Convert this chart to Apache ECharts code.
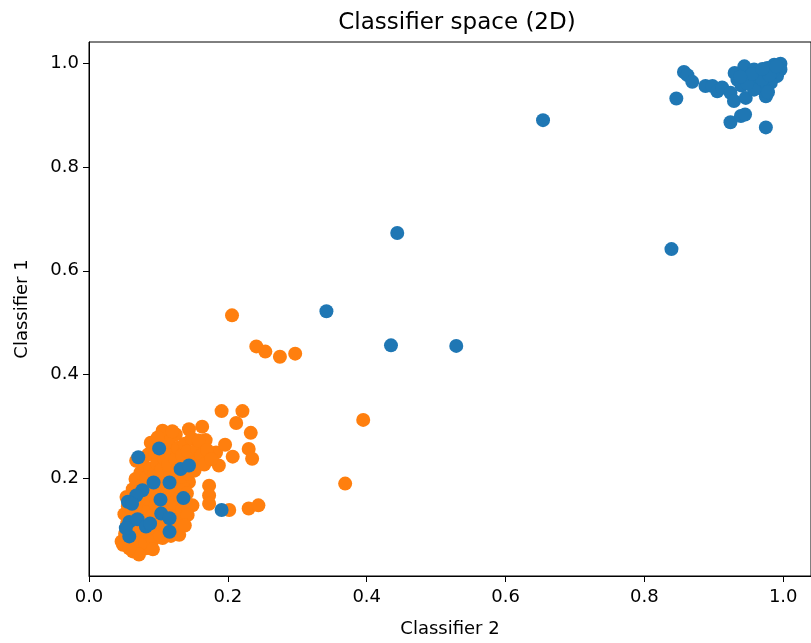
<!DOCTYPE html>
<html>
<head>
<meta charset="utf-8">
<script src="https://cdn.jsdelivr.net/npm/echarts@6/dist/echarts.min.js"></script>
<style>html,body{margin:0;padding:0;background:#fff;}#c{width:811px;height:643px;}</style>
</head>
<body>
<div id="c"></div>
<script>
const titleText = 'Classifier space (2D)';
const xName = 'Classifier 2';
const yName = 'Classifier 1';
const xTicks = [0.0, 0.2, 0.4, 0.6, 0.8, 1.0];
const yTicks = [0.2, 0.4, 0.6, 0.8, 1.0];

// orange class (drawn first)
const orangePoints = [
  [0.206,0.514],[0.241,0.454],[0.254,0.444],[0.275,0.434],[0.297,0.440],[0.395,0.312],[0.369,0.189],
  [0.191,0.329],[0.221,0.329],[0.212,0.306],[0.233,0.287],[0.163,0.299],[0.168,0.273],[0.230,0.256],
  [0.235,0.237],[0.207,0.241],[0.183,0.249],[0.187,0.224],[0.173,0.185],[0.173,0.166],[0.173,0.150],
  [0.202,0.138],[0.230,0.141],[0.244,0.147],[0.149,0.147],[0.144,0.294],[0.125,0.284],[0.106,0.291],
  [0.089,0.268],[0.068,0.233],[0.154,0.237],[0.144,0.192],[0.130,0.090],[0.106,0.084],[0.082,0.064],
  [0.063,0.058],[0.049,0.071],[0.047,0.077],
  [0.052,0.092],[0.055,0.112],[0.051,0.130],[0.056,0.145],[0.054,0.163],[0.060,0.078],[0.062,0.100],
  [0.064,0.122],[0.061,0.140],[0.066,0.158],[0.063,0.178],[0.067,0.198],[0.071,0.068],[0.073,0.088],
  [0.070,0.108],[0.075,0.132],[0.072,0.150],[0.076,0.186],[0.074,0.210],[0.078,0.226],[0.081,0.074],
  [0.084,0.095],[0.080,0.118],[0.086,0.140],[0.083,0.160],[0.087,0.178],[0.082,0.200],[0.088,0.218],
  [0.085,0.245],[0.092,0.080],[0.094,0.104],[0.091,0.126],[0.096,0.148],[0.093,0.168],[0.097,0.188],
  [0.094,0.208],[0.098,0.228],[0.095,0.250],[0.102,0.090],[0.104,0.112],[0.101,0.136],[0.106,0.156],
  [0.103,0.176],[0.107,0.198],[0.104,0.216],[0.108,0.238],[0.103,0.262],[0.112,0.098],[0.114,0.120],
  [0.111,0.142],[0.116,0.164],[0.113,0.184],[0.117,0.206],[0.114,0.226],[0.118,0.248],[0.115,0.270],
  [0.121,0.106],[0.124,0.130],[0.122,0.152],[0.126,0.172],[0.123,0.194],[0.127,0.214],[0.124,0.236],
  [0.128,0.258],[0.132,0.118],[0.134,0.140],[0.131,0.162],[0.136,0.180],[0.133,0.202],[0.137,0.222],
  [0.134,0.244],[0.138,0.266],[0.142,0.128],[0.141,0.170],[0.143,0.208],[0.146,0.230],[0.142,0.252],
  [0.148,0.276],[0.152,0.214],[0.156,0.256],[0.158,0.272],[0.162,0.244],[0.166,0.226],[0.170,0.254],
  [0.176,0.236],[0.196,0.264],[0.120,0.290],[0.099,0.278],[0.138,0.108],[0.118,0.088],[0.092,0.062],
  [0.072,0.052],[0.058,0.064]
];

// blue class (drawn on top)
const bluePoints = [
  // scattered
  [0.654,0.891],[0.444,0.673],[0.342,0.522],[0.435,0.456],[0.529,0.455],[0.839,0.642],
  // lower-left cluster
  [0.101,0.257],[0.071,0.240],[0.132,0.217],[0.144,0.224],[0.093,0.191],[0.116,0.191],[0.077,0.176],
  [0.068,0.166],[0.056,0.154],[0.103,0.158],[0.136,0.161],[0.191,0.138],[0.058,0.115],[0.070,0.120],
  [0.082,0.106],[0.104,0.131],[0.116,0.122],[0.116,0.096],[0.058,0.087],[0.053,0.103],[0.088,0.112],
  [0.062,0.150],
  // upper-right cluster
  [0.846,0.933],[0.857,0.984],[0.862,0.978],[0.869,0.965],[0.888,0.957],[0.898,0.957],[0.905,0.947],
  [0.912,0.954],[0.924,0.944],[0.929,0.928],[0.934,0.969],[0.944,0.995],[0.946,0.934],[0.924,0.887],
  [0.939,0.899],[0.945,0.902],[0.975,0.877],[0.958,0.989],[0.967,0.983],[0.977,0.992],[0.987,0.998],
  [0.996,1.000],[0.996,0.989],[0.991,0.976],[0.982,0.963],[0.972,0.950],[0.975,0.937],[0.963,0.969],
  [0.958,0.950],[0.950,0.975],[0.940,0.958],[0.985,0.985],[0.970,0.970],[0.980,0.978],[0.948,0.962],
  [0.990,0.995],[0.955,0.980],[0.930,0.982],[0.938,0.975],[0.970,0.990],[0.978,0.945]
];

const FONT = 'DejaVu Sans';
const chart = echarts.init(document.getElementById('c'), null, {renderer: 'canvas'});
chart.setOption({
  animation: false,
  backgroundColor: '#fff',
  title: {
    text: titleText, left: 452, top: 7, textAlign: 'center',
    textStyle: {fontFamily: FONT, fontSize: 23, fontWeight: 'normal', color: '#000'}
  },
  grid: {left: 89, top: 42, width: 725, height: 540, show: true, borderColor: '#000', borderWidth: 1, backgroundColor: 'transparent'},
  xAxis: {
    type: 'value', min: 0, max: 1.04,
    name: xName, nameLocation: 'middle', nameGap: 44,
    nameTextStyle: {fontFamily: FONT, fontSize: 18, color: '#000'},
    axisLine: {show: true, onZero: false, lineStyle: {color: '#000', width: 1}},
    axisTick: {show: true, length: 6, lineStyle: {color: '#000'}, customValues: xTicks},
    axisLabel: {fontFamily: FONT, fontSize: 18, color: '#000', margin: 12, customValues: xTicks,
      formatter: v => v.toFixed(1)},
    splitLine: {show: false}
  },
  yAxis: {
    type: 'value', min: 0.0105, max: 1.042,
    name: yName, nameLocation: 'middle', nameGap: 58, nameRotate: 90,
    nameTextStyle: {fontFamily: FONT, fontSize: 18, color: '#000'},
    axisLine: {show: true, onZero: false, lineStyle: {color: '#000', width: 1}},
    axisTick: {show: true, length: 6, lineStyle: {color: '#000'}, customValues: yTicks},
    axisLabel: {fontFamily: FONT, fontSize: 18, color: '#000', margin: 10, customValues: yTicks,
      formatter: v => v.toFixed(1)},
    splitLine: {show: false}
  },
  series: [
    {type: 'scatter', data: orangePoints, symbolSize: 14, itemStyle: {color: '#ff7f0e', opacity: 1}, z: 2},
    {type: 'scatter', data: bluePoints, symbolSize: 14, itemStyle: {color: '#1f77b4', opacity: 1}, z: 3}
  ]
});
</script>
</body>
</html>
